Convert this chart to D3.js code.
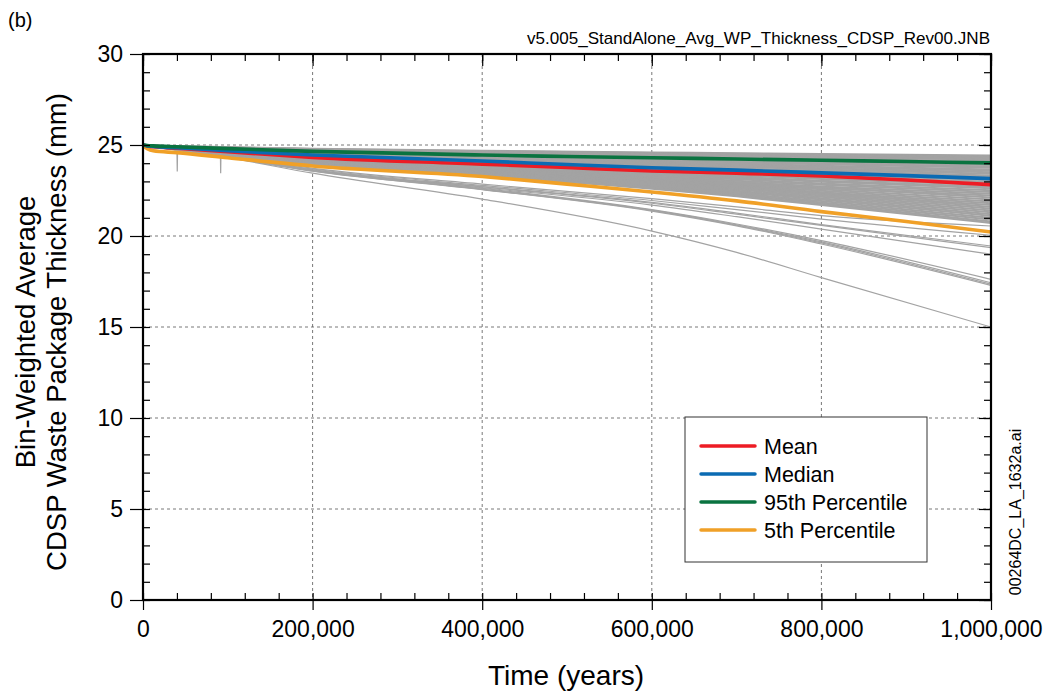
<!DOCTYPE html>
<html><head><meta charset="utf-8">
<script src="https://cdnjs.cloudflare.com/ajax/libs/d3/7.8.5/d3.min.js"></script>
<style>body{margin:0;background:#fff;}svg{display:block;font-family:"Liberation Sans",Arial,sans-serif;}</style>
</head><body><svg id="c" width="1047" height="692"></svg>
<script>
// ---- data ----
const xTicks = [0, 200000, 400000, 600000, 800000, 1000000];
const yTicks = [0, 5, 10, 15, 20, 25, 30];
const legendNames = ["Mean", "Median", "95th Percentile", "5th Percentile"];

// realization time grid (years)
const realT = [0, 20000, 100000, 200000, 400000, 600000, 700000, 800000, 1000000];
// gray realizations in the dense band: thickness (mm) at realT
const realV = [
 [25,24.96,24.88,24.80,24.68,24.59,24.55,24.50,24.42],
 [25,24.96,24.88,24.78,24.66,24.56,24.52,24.47,24.38],
 [25,24.95,24.87,24.77,24.63,24.52,24.48,24.42,24.33],
 [25,24.95,24.86,24.75,24.61,24.50,24.45,24.40,24.30],
 [25,24.95,24.85,24.74,24.59,24.47,24.41,24.35,24.25],
 [25,24.94,24.84,24.72,24.56,24.43,24.38,24.31,24.20],
 [25,24.94,24.82,24.69,24.52,24.38,24.31,24.24,24.12],
 [25,24.93,24.81,24.67,24.48,24.33,24.26,24.18,24.05],
 [25,24.93,24.80,24.64,24.44,24.28,24.20,24.12,23.98],
 [25,24.94,24.80,24.67,24.47,24.26,24.16,24.06,23.90],
 [25,24.94,24.79,24.65,24.43,24.21,24.10,24.00,23.82],
 [25,24.94,24.77,24.62,24.40,24.16,24.05,23.94,23.75],
 [25,24.93,24.76,24.60,24.36,24.10,23.98,23.86,23.66],
 [25,24.93,24.74,24.57,24.32,24.05,23.92,23.79,23.58],
 [25,24.92,24.73,24.55,24.28,24.00,23.86,23.72,23.50],
 [25,24.92,24.72,24.53,24.24,23.94,23.80,23.66,23.42],
 [25,24.92,24.70,24.50,24.20,23.88,23.73,23.58,23.33],
 [25,24.91,24.68,24.47,24.16,23.83,23.67,23.51,23.25],
 [25,24.91,24.67,24.45,24.12,23.77,23.60,23.44,23.16],
 [25,24.90,24.65,24.42,24.08,23.71,23.54,23.37,23.08],
 [25,24.90,24.64,24.39,24.03,23.65,23.46,23.28,22.98],
 [25,24.89,24.62,24.37,23.99,23.59,23.40,23.21,22.90],
 [25,24.89,24.60,24.34,23.94,23.53,23.33,23.13,22.80],
 [25,24.88,24.59,24.31,23.90,23.46,23.25,23.04,22.70],
 [25,24.88,24.57,24.29,23.86,23.41,23.19,22.98,22.62],
 [25,24.88,24.55,24.26,23.81,23.34,23.12,22.89,22.52],
 [25,24.87,24.54,24.23,23.76,23.27,23.04,22.81,22.42],
 [25,24.87,24.52,24.20,23.71,23.20,22.96,22.72,22.32],
 [25,24.86,24.50,24.17,23.67,23.14,22.89,22.64,22.22],
 [25,24.88,24.54,24.22,23.73,23.21,22.96,22.67,22.12],
 [25,24.88,24.52,24.19,23.68,23.14,22.87,22.57,22.00],
 [25,24.88,24.50,24.16,23.64,23.08,22.80,22.49,21.90],
 [25,24.87,24.49,24.14,23.59,23.02,22.73,22.41,21.80],
 [25,24.87,24.47,24.11,23.55,22.95,22.66,22.33,21.70],
 [25,24.90,24.52,24.15,23.64,23.10,22.76,22.38,21.60],
 [25,24.89,24.51,24.12,23.60,23.04,22.69,22.30,21.50],
 [25,24.89,24.50,24.10,23.56,22.98,22.62,22.23,21.40],
 [25,24.89,24.48,24.07,23.52,22.93,22.56,22.15,21.30],
 [25,24.89,24.47,24.05,23.48,22.87,22.49,22.07,21.20],
 [25,24.88,24.45,24.02,23.44,22.82,22.43,22.00,21.10],
 [25,24.88,24.44,24.00,23.40,22.76,22.36,21.92,21.00],
 [25,24.88,24.43,23.97,23.36,22.70,22.29,21.84,20.90],
 [25,24.87,24.41,23.95,23.32,22.65,22.23,21.77,20.80],
 [25,24.87,24.40,23.93,23.29,22.60,22.18,21.70,20.72]
];
// isolated lower realizations
const lowV = [
 [25,24.88,24.38,23.72,22.85,22.05,21.60,21.12,20.55],
 [25,24.88,24.37,23.68,22.78,21.95,21.45,20.93,20.04],
 [25,24.87,24.36,23.64,22.72,21.85,21.26,20.63,19.45],
 [25,24.87,24.35,23.62,22.70,21.80,21.20,20.58,19.36],
 [25,24.87,24.34,23.60,22.65,21.70,21.06,20.38,19.00],
 [25,24.88,24.35,23.62,22.62,21.45,20.66,19.75,17.62],
 [25,24.88,24.34,23.60,22.58,21.42,20.62,19.68,17.43],
 [25,24.87,24.33,23.58,22.56,21.40,20.59,19.62,17.35],
 [25,24.87,24.32,23.56,22.55,21.37,20.56,19.56,17.29],
 [25,24.85,24.30,23.45,22.03,20.27,19.10,17.71,15.00]
];
// two realizations with a brief dip
const spikeT = [[40000, 40400, 40800], [91200, 91600, 92000]];
const spikeV = [[24.84, 23.55, 24.84], [24.76, 23.45, 24.76]];

// statistics
const statT = [0, 5000, 12000, 40000, 100000, 200000, 400000, 500000, 600000, 700000, 800000, 900000, 1000000];
const p95  = [25.0, 24.97, 24.95, 24.90, 24.80, 24.65, 24.45, 24.37, 24.30, 24.23, 24.16, 24.09, 24.02];
const median = [25.0, 24.95, 24.92, 24.85, 24.68, 24.45, 24.12, 23.93, 23.75, 23.62, 23.47, 23.32, 23.15];
const mean = [25.0, 24.94, 24.90, 24.82, 24.63, 24.32, 23.95, 23.76, 23.57, 23.45, 23.30, 23.08, 22.82];
const p05  = [24.97, 24.80, 24.68, 24.58, 24.30, 23.85, 23.27, 22.85, 22.42, 21.93, 21.34, 20.80, 20.22];

// ---- drawing ----
const svg = d3.select("#c");
const L = 143, R = 991, T = 54, B = 600;
const x = d3.scaleLinear().domain([0, 1000000]).range([L, R]);
const y = d3.scaleLinear().domain([0, 30]).range([B, T]);
const colors = {mean:"#ed1c24", median:"#0b6bb3", p95:"#0a7340", p05:"#f0a027"};
const FONT = '"Liberation Sans",Arial,sans-serif';

// grid
const g = svg.append("g");
g.selectAll(".vg").data(xTicks.slice(1, -1)).join("line")
  .attr("x1", d => x(d)).attr("x2", d => x(d)).attr("y1", T).attr("y2", B)
  .attr("stroke", "#555").attr("stroke-width", 0.8).attr("stroke-dasharray", "3,3");
g.selectAll(".hg").data(yTicks.slice(1, -1)).join("line")
  .attr("y1", d => y(d)).attr("y2", d => y(d)).attr("x1", L).attr("x2", R)
  .attr("stroke", "#555").attr("stroke-width", 0.8).attr("stroke-dasharray", "3,3");

// clip
svg.append("clipPath").attr("id", "clip").append("rect")
  .attr("x", L).attr("y", T).attr("width", R - L).attr("height", B - T);
const plot = svg.append("g").attr("clip-path", "url(#clip)");

const line = d3.line().curve(d3.curveMonotoneX).x(d => x(d[0])).y(d => y(d[1]));
const gray = "#a3a3a3";
realV.forEach(vals => {
  plot.append("path").datum(realT.map((t, i) => [t, vals[i]]))
    .attr("d", line).attr("fill", "none").attr("stroke", gray).attr("stroke-width", 2);
});
lowV.forEach(vals => {
  plot.append("path").datum(realT.map((t, i) => [t, vals[i]]))
    .attr("d", line).attr("fill", "none").attr("stroke", gray).attr("stroke-width", 1.2);
});
spikeT.forEach((ts, k) => {
  plot.append("path").datum(ts.map((t, i) => [t, spikeV[k][i]]))
    .attr("d", d3.line().x(d => x(d[0])).y(d => y(d[1]))).attr("fill", "none").attr("stroke", gray).attr("stroke-width", 1.2);
});

const stats = [
  {key:"p05", vals:p05}, {key:"mean", vals:mean}, {key:"median", vals:median}, {key:"p95", vals:p95}
];
stats.forEach(s => {
  plot.append("path").datum(statT.map((t, i) => [t, s.vals[i]]))
    .attr("d", line).attr("fill", "none").attr("stroke", colors[s.key])
    .attr("stroke-width", 3.6).attr("stroke-linejoin", "round");
});

// axes
const minorX = d3.range(0, 1000001, 40000);
const minorY = d3.range(0, 31, 1);
function styleAxis(sel) {
  sel.select(".domain").remove();
  sel.selectAll("line").attr("stroke", "#000").attr("stroke-width", 1.2);
  sel.selectAll("text").attr("fill", "#000").attr("font-family", FONT);
}
svg.append("g").attr("transform", `translate(${L},0)`).call(d3.axisLeft(y).tickValues(minorY).tickSize(-7).tickFormat("")).call(styleAxis);
svg.append("g").attr("transform", `translate(${R},0)`).call(d3.axisRight(y).tickValues(minorY).tickSize(-7).tickFormat("")).call(styleAxis);
svg.append("g").attr("transform", `translate(0,${B})`).call(d3.axisBottom(x).tickValues(minorX).tickSize(-7).tickFormat("")).call(styleAxis);
svg.append("g").attr("transform", `translate(0,${T})`).call(d3.axisTop(x).tickValues(minorX).tickSize(-7).tickFormat("")).call(styleAxis);
svg.append("g").attr("transform", `translate(${R},0)`).call(d3.axisRight(y).tickValues(yTicks).tickSize(-12).tickFormat("")).call(styleAxis);
svg.append("g").attr("transform", `translate(0,${T})`).call(d3.axisTop(x).tickValues(xTicks).tickSize(-12).tickFormat("")).call(styleAxis);
svg.append("g").attr("transform", `translate(${L},0)`)
  .call(d3.axisLeft(y).tickValues(yTicks).tickSize(13).tickPadding(7).tickFormat(d3.format("d")))
  .call(styleAxis).call(s => s.selectAll("text").attr("font-size", 23));
svg.append("g").attr("transform", `translate(0,${B})`)
  .call(d3.axisBottom(x).tickValues(xTicks).tickSize(10).tickPadding(11).tickFormat(d3.format(",")))
  .call(styleAxis).call(s => s.selectAll("text").attr("font-size", 23));

// frame
svg.append("rect").attr("x", L).attr("y", T).attr("width", R - L).attr("height", B - T)
  .attr("fill", "none").attr("stroke", "#000").attr("stroke-width", 2.2);

// titles
svg.append("text").attr("x", 566).attr("y", 685).attr("text-anchor", "middle")
  .attr("font-size", 28).text("Time (years)");
const yt = svg.append("text").attr("transform", "translate(0,332) rotate(-90)")
  .attr("text-anchor", "middle").attr("font-size", 27.5);
yt.append("tspan").attr("x", 0).attr("y", 35).text("Bin-Weighted Average");
yt.append("tspan").attr("x", 0).attr("y", 66).text("CDSP Waste Package Thickness (mm)");

svg.append("text").attr("x", 8).attr("y", 27).attr("font-size", 20).text("(b)");
svg.append("text").attr("x", 990).attr("y", 44).attr("text-anchor", "end")
  .attr("font-size", 17).attr("textLength", 463).attr("lengthAdjust", "spacingAndGlyphs")
  .text("v5.005_StandAlone_Avg_WP_Thickness_CDSP_Rev00.JNB");
svg.append("text").attr("transform", "translate(1021,512) rotate(-90)").attr("text-anchor", "middle")
  .attr("font-size", 16).text("00264DC_LA_1632a.ai");

// legend
const lg = svg.append("g");
lg.append("rect").attr("x", 685).attr("y", 417).attr("width", 242).attr("height", 145)
  .attr("fill", "#fff").attr("stroke", "#333").attr("stroke-width", 1);
const legKeys = ["mean", "median", "p95", "p05"];
legendNames.forEach((n, i) => {
  const yy = 446 + i * 28;
  lg.append("line").attr("x1", 701).attr("x2", 755).attr("y1", yy).attr("y2", yy)
    .attr("stroke", colors[legKeys[i]]).attr("stroke-width", 3.5).attr("stroke-linecap", "round");
  lg.append("text").attr("x", 764).attr("y", yy + 8).attr("font-size", 21.5).text(n);
});
</script></body></html>
